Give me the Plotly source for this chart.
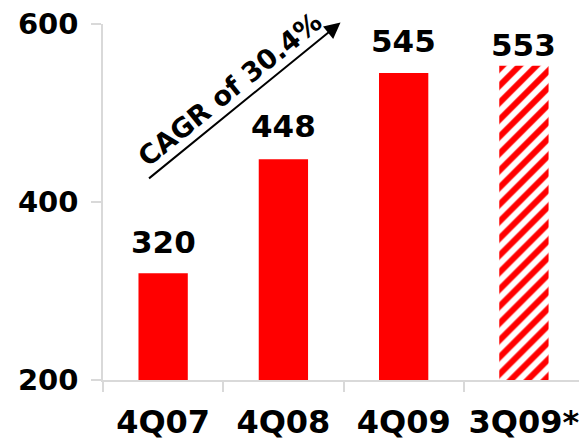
import plotly.graph_objects as go

categories = ["4Q07", "4Q08", "4Q09", "3Q09*"]
values = [320, 448, 545, 553]
label_shift = [11, 13, 12, 1]
y_ticks = [200, 400, 600]
cagr_text = "CAGR of 30.4%"

FONT = "DejaVu Sans"
RED = "#ff0000"
GRAY = "#d9d9d9"

fig = go.Figure()
fig.add_trace(go.Bar(
    x=categories[:3], y=values[:3],
    marker=dict(color=RED, line=dict(width=0)),
    width=0.41, hoverinfo="skip",
))
fig.add_trace(go.Bar(
    x=categories[3:], y=values[3:],
    marker=dict(color="white", line=dict(width=0),
                pattern=dict(shape="/", fgcolor=RED, bgcolor="white",
                             size=12, solidity=0.5, fillmode="replace",
                             fgopacity=1)),
    width=0.41, hoverinfo="skip",
))

for c, v, s in zip(categories, values, label_shift):
    fig.add_annotation(x=c, y=v, text=f"<b>{v}</b>", showarrow=False,
                       yanchor="bottom", yshift=s,
                       font=dict(family=FONT, size=31, color="black"))

# CAGR arrow
fig.add_annotation(xref="paper", yref="paper", x=0.499, y=1.004,
                   ax=-193, ay=157, axref="pixel", ayref="pixel",
                   text="", showarrow=True, arrowhead=2, arrowsize=1.6,
                   arrowwidth=2, arrowcolor="black")
fig.add_annotation(xref="paper", yref="paper", x=0.266, y=0.815,
                   text=f"<b>{cagr_text}</b>", showarrow=False,
                   textangle=-39, xanchor="center", yanchor="middle",
                   font=dict(family=FONT, size=27, color="black"))

fig.update_layout(
    width=579, height=441,
    margin=dict(l=103, r=0, t=24, b=61, autoexpand=False),
    paper_bgcolor="white", plot_bgcolor="white",
    showlegend=False, barmode="overlay",
    font=dict(family=FONT, color="black"),
    xaxis=dict(
        type="category", range=[-0.5, 3.458], automargin=False,
        showline=True, linecolor=GRAY, linewidth=1.5,
        ticks="outside", ticklen=10, tickcolor=GRAY, tickwidth=1.5,
        tickson="boundaries", showgrid=False, zeroline=False,
        tickfont=dict(family=FONT, size=32, color="black"),
        ticklabelstandoff=13,
        tickvals=categories, ticktext=[f"<b>{c}</b>" for c in categories],
    ),
    yaxis=dict(
        range=[200, 600], tickvals=y_ticks, automargin=False,
        ticktext=[f"<b>{t}</b>" for t in y_ticks],
        showline=True, linecolor=GRAY, linewidth=1.5,
        ticks="outside", ticklen=10, tickcolor=GRAY, tickwidth=1.5,
        showgrid=False, zeroline=False,
        tickfont=dict(family=FONT, size=29, color="black"),
        ticklabelstandoff=7,
    ),
)

fig.write_html("out.html")
